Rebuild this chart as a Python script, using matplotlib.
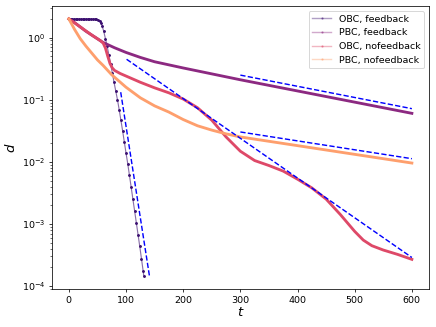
import matplotlib.pyplot as plt
import numpy as np
from matplotlib.lines import Line2D

# OBC, feedback (log10 d)
t_obc_fb = [0, 3, 6, 9, 12, 15, 18, 21, 24, 27, 30, 33, 36, 39, 42, 45, 48, 51, 54, 56, 58,
            61, 64, 67, 70, 73, 76, 79, 82, 85, 88, 91, 94, 97, 100, 103, 106, 109, 112,
            115, 118, 121, 124, 127, 130, 131]
ld_obc_fb = [0.30, 0.30, 0.30, 0.30, 0.30, 0.30, 0.30, 0.30, 0.30, 0.30, 0.30, 0.30, 0.30,
             0.30, 0.30, 0.30, 0.295, 0.285, 0.265, 0.24, 0.19, 0.10, -0.02, -0.14, -0.28,
             -0.42, -0.57, -0.72, -0.86, -1.00, -1.16, -1.33, -1.50, -1.68, -1.86, -2.03,
             -2.22, -2.41, -2.60, -2.79, -2.98, -3.17, -3.36, -3.56, -3.76, -3.83]

# PBC, feedback
t_pbc_fb = [0, 10, 20, 30, 40, 50, 60, 80, 100, 125, 150, 200, 250, 300, 350, 400, 450, 500, 550, 600]
ld_pbc_fb = [0.30, 0.24, 0.17, 0.10, 0.04, -0.02, -0.08, -0.165, -0.24, -0.32, -0.39, -0.49,
             -0.585, -0.68, -0.77, -0.86, -0.95, -1.04, -1.13, -1.22]

# OBC, nofeedback
t_obc_nf = [0, 20, 40, 55, 60, 64, 68, 72, 76, 80, 90, 100, 125, 150, 175, 200, 225, 250,
            275, 300, 325, 350, 375, 400, 425, 450, 475, 500, 515, 530, 550, 575, 600]
ld_obc_nf = [0.30, 0.17, 0.04, -0.05, -0.09, -0.17, -0.30, -0.42, -0.49, -0.53, -0.58,
             -0.62, -0.72, -0.81, -0.89, -0.99, -1.13, -1.33, -1.60, -1.83, -1.98, -2.06,
             -2.15, -2.28, -2.42, -2.60, -2.85, -3.12, -3.26, -3.35, -3.42, -3.49, -3.57]

# PBC, nofeedback
t_pbc_nf = [0, 10, 20, 30, 40, 50, 60, 75, 100, 125, 150, 175, 200, 225, 250, 275, 300,
            350, 400, 450, 500, 550, 600]
ld_pbc_nf = [0.30, 0.13, -0.02, -0.14, -0.25, -0.36, -0.45, -0.60, -0.80, -0.97, -1.10, -1.20,
             -1.32, -1.42, -1.49, -1.55, -1.60, -1.67, -1.74, -1.81, -1.88, -1.95, -2.02]

# fitted exponentials (end points, log10 d)
fit_t = [[90.7, 141], [300, 600], [101, 600], [300, 600]]
fit_ld = [[-0.88, -3.84], [-0.605, -1.145], [-0.35, -3.54], [-1.52, -1.95]]

labels = ['OBC, feedback', 'PBC, feedback', 'OBC, nofeedback', 'PBC, nofeedback']
colors = ['#3b0f70', '#8c2981', '#de4968', '#fe9f6d']

dpi = 68
fig = plt.figure(figsize=(436 / dpi, 327 / dpi), dpi=dpi)
ax = fig.add_axes([0.1186, 0.1162, 0.8654, 0.8654])

ax.plot(t_obc_fb, 10 ** np.array(ld_obc_fb), '-', color=colors[0], lw=1.2, alpha=0.6)
ax.plot(t_obc_fb, 10 ** np.array(ld_obc_fb), '.', color=colors[0], ms=4)
ax.plot(t_pbc_fb, 10 ** np.array(ld_pbc_fb), '-', color=colors[1], lw=3)
ax.plot(t_obc_nf, 10 ** np.array(ld_obc_nf), '-', color=colors[2], lw=3)
ax.plot(t_pbc_nf, 10 ** np.array(ld_pbc_nf), '-', color=colors[3], lw=3)

for ft, fl in zip(fit_t, fit_ld):
    ax.plot(ft, 10 ** np.array(fl), 'b--', lw=1.5)

ax.set_yscale('log')
ax.set_xlabel('$t$', fontsize=14, labelpad=1)
ax.set_ylabel('$d$', fontsize=14)
ax.tick_params(labelsize=10)

handles = [Line2D([], [], color=c, lw=1.5, alpha=0.4, marker='.', ms=3, mec=c, mfc=c)
           for c in colors]
ax.legend(handles, labels, loc='upper right', fontsize=10)

fig.savefig('out.png', dpi=dpi)
